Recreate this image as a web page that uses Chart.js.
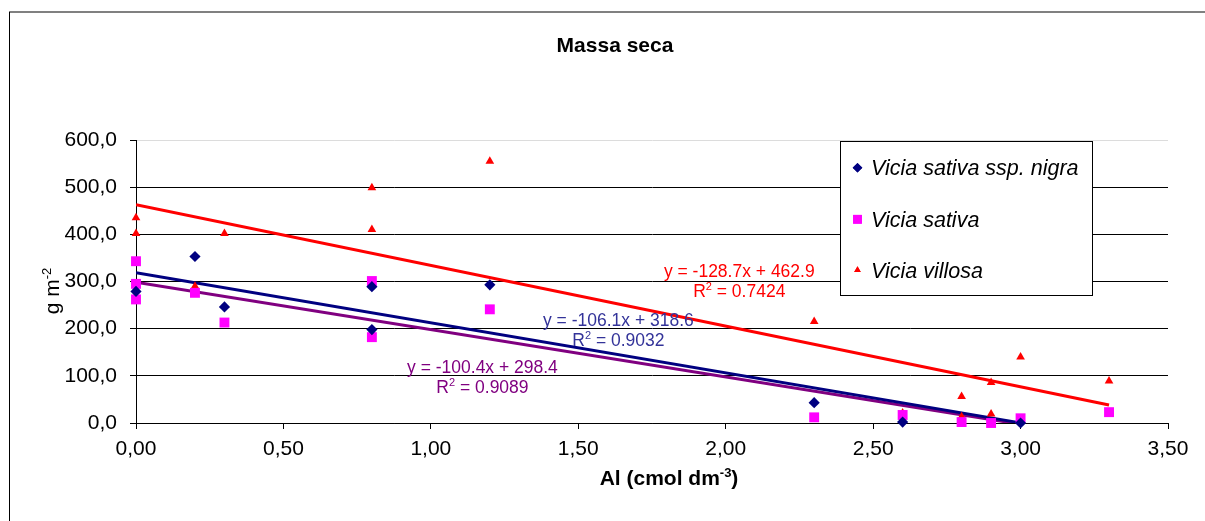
<!DOCTYPE html>
<html>
<head>
<meta charset="utf-8">
<title>Massa seca</title>
<script src="https://cdn.jsdelivr.net/npm/chart.js@4.4.0/dist/chart.umd.min.js"></script>
<style>
  html, body { margin: 0; padding: 0; background: #fff; }
  #wrap { position: relative; width: 1205px; height: 521px; }
</style>
</head>
<body>
<div id="wrap"><canvas id="massa-seca"></canvas></div>
<script>
/*global document, window, Chart*/
(function (window, document, Chart) {
  "use strict";

  /////////////////////////////////////////////////////////////////
  // data: Al in cmol dm-3, dry mass in g m-2
  /////////////////////////////////////////////////////////////////
  var nigra_x = [0, 0.2, 0.3, 0.8, 0.8, 1.2, 2.3, 2.6, 3.0],
    nigra_y = [279, 353, 246, 289, 198, 293, 43, 2, 0],
    sativa_x = [0, 0, 0, 0.2, 0.3, 0.8, 0.8, 1.2, 2.3, 2.6, 2.8, 2.9, 3.0, 3.3],
    sativa_y = [343, 295, 262, 276, 213, 301, 182, 241, 12, 17, 2, 0, 10, 23],
    villosa_x = [0, 0, 0.2, 0.3, 0.8, 0.8, 1.2, 2.3, 2.6, 2.8, 2.8, 2.9, 2.9, 3.0, 3.3],
    villosa_y = [435, 402, 290, 402, 499, 410, 555, 215, 21, 56, 13, 86, 19, 140, 89],
    // trendline end points
    nigra_fit_x = [0, 3.0],
    nigra_fit_y = [318.6, 0.3],
    sativa_fit_x = [0, 3.3],
    sativa_fit_y = [298.4, -32.9],
    villosa_fit_x = [0, 3.3],
    villosa_fit_y = [462.9, 38.2],
    series_label_list = ["Vicia sativa ssp. nigra", "Vicia sativa", "Vicia villosa"],
    equation_list = ["y = -106.1x + 318.6", "y = -100.4x + 298.4", "y = -128.7x + 462.9"],
    r2_list = ["0.9032", "0.9089", "0.7424"],
    x_tick_value_list = [0, 0.5, 1, 1.5, 2, 2.5, 3, 3.5],
    x_tick_label_list = ["0,00", "0,50", "1,00", "1,50", "2,00", "2,50", "3,00", "3,50"],
    y_tick_value_list = [0, 100, 200, 300, 400, 500, 600],
    y_tick_label_list = ["0,0", "100,0", "200,0", "300,0", "400,0", "500,0", "600,0"],

    FONT = '"Liberation Sans", Arial, Helvetica, sans-serif',
    NAVY = "#000080",
    MAGENTA = "#FF00FF",
    RED = "#FF0000",
    PURPLE = "#800080";

  function toPoints(x_list, y_list) {
    var i, point_list = [];
    for (i = 0; i < x_list.length; i += 1) {
      point_list.push({x: x_list[i], y: y_list[i]});
    }
    return point_list;
  }

  function setTicks(value_list) {
    return function (scale) {
      scale.ticks = value_list.map(function (value) {
        return {value: value};
      });
    };
  }

  // text with a small raised part, e.g. "dm" + "-3"
  function drawSup(ctx, base, sup, x, y, size, weight, align) {
    var small = Math.round(size * 0.62),
      base_w,
      sup_w,
      tail = "",
      start;
    if (sup.indexOf("|") !== -1) {
      tail = sup.split("|")[1];
      sup = sup.split("|")[0];
    }
    ctx.font = weight + " " + size + "px " + FONT;
    base_w = ctx.measureText(base).width;
    ctx.font = weight + " " + small + "px " + FONT;
    sup_w = ctx.measureText(sup).width;
    ctx.font = weight + " " + size + "px " + FONT;
    start = align === "center" ?
        x - (base_w + sup_w + ctx.measureText(tail).width) / 2 : x;
    ctx.textAlign = "left";
    ctx.textBaseline = "alphabetic";
    ctx.fillText(base, start, y);
    ctx.fillText(tail, start + base_w + sup_w, y);
    ctx.font = weight + " " + small + "px " + FONT;
    ctx.fillText(sup, start + base_w, y - size * 0.4);
  }

  var framePlugin = {
    id: "frame",
    beforeDraw: function (chart) {
      var ctx = chart.ctx;
      ctx.save();
      ctx.fillStyle = "#ffffff";
      ctx.fillRect(0, 0, chart.width, chart.height);
      ctx.strokeStyle = "#808080";
      ctx.lineWidth = 2;
      ctx.beginPath();
      ctx.moveTo(9, 12);
      ctx.lineTo(chart.width, 12);
      ctx.stroke();
      ctx.strokeStyle = "#000000";
      ctx.lineWidth = 1;
      ctx.beginPath();
      ctx.moveTo(9.5, 12);
      ctx.lineTo(9.5, chart.height);
      ctx.stroke();
      ctx.restore();
    }
  };

  var textPlugin = {
    id: "texts",
    afterDraw: function (chart, args, options) {
      var ctx = chart.ctx,
        x_scale = chart.scales.x,
        y_scale = chart.scales.y;
      ctx.save();
      ctx.fillStyle = "#000000";
      ctx.font = "bold 21px " + FONT;
      ctx.textAlign = "center";
      ctx.textBaseline = "alphabetic";
      ctx.fillText("Massa seca", 615, 52);

      drawSup(ctx, "Al (cmol dm", "-3|)", 669, 485, 21, "bold", "center");

      ctx.translate(59, 291);
      ctx.rotate(-Math.PI / 2);
      drawSup(ctx, "g m", "-2", 0, 0, 21, "normal", "center");
      ctx.setTransform(1, 0, 0, 1, 0, 0);

      options.equations.forEach(function (item, i) {
        var px = x_scale.getPixelForValue(item.at[0]);
        ctx.fillStyle = item.color;
        ctx.font = "17.5px " + FONT;
        ctx.textAlign = "center";
        ctx.fillText(equation_list[i], px, y_scale.getPixelForValue(item.at[1]));
        drawSup(ctx, "R", "2| = " + r2_list[i], px,
          y_scale.getPixelForValue(item.at[2]), 17.5, "normal", "center");
      });
      ctx.restore();
    }
  };

  var legendPlugin = {
    id: "boxLegend",
    afterDraw: function (chart, args, options) {
      var ctx = chart.ctx,
        box = options.box,
        helpers = Chart.helpers;
      ctx.save();
      ctx.fillStyle = "#ffffff";
      ctx.fillRect(box[0], box[1], box[2], box[3]);
      ctx.strokeStyle = "#000000";
      ctx.lineWidth = 1;
      ctx.strokeRect(box[0] + 0.5, box[1] + 0.5, box[2], box[3]);
      series_label_list.forEach(function (label, i) {
        var dataset = chart.data.datasets[i],
          cy = options.rows[i];
        ctx.fillStyle = dataset.backgroundColor;
        helpers.drawPoint(ctx, {
          pointStyle: dataset.pointStyle,
          radius: options.radius[i],
          rotation: 0,
          borderWidth: 0
        }, box[0] + 17.5, cy);
        ctx.fill();
        ctx.fillStyle = "#000000";
        ctx.font = "italic 21.5px " + FONT;
        ctx.textAlign = "left";
        ctx.textBaseline = "alphabetic";
        ctx.fillText(label, box[0] + 31, cy + 7.5);
      });
      ctx.restore();
    }
  };

  function scatterSet(x_list, y_list, color, style, radius) {
    return {
      type: "scatter",
      data: toPoints(x_list, y_list),
      backgroundColor: color,
      borderColor: color,
      borderWidth: 0,
      pointStyle: style,
      pointRadius: radius,
      clip: false,
      order: 0
    };
  }

  function fitSet(x_list, y_list, color) {
    return {
      type: "line",
      data: toPoints(x_list, y_list),
      borderColor: color,
      borderWidth: 3,
      pointRadius: 0,
      fill: false,
      clip: 0,
      order: 1
    };
  }

  window.massa_chart = new Chart(document.getElementById("massa-seca"), {
    type: "scatter",
    data: {
      datasets: [
        scatterSet(nigra_x, nigra_y, NAVY, "rectRot", 5.6),
        scatterSet(sativa_x, sativa_y, MAGENTA, "rect", 7),
        scatterSet(villosa_x, villosa_y, RED, "triangle", 5),
        fitSet(nigra_fit_x, nigra_fit_y, NAVY),
        fitSet(sativa_fit_x, sativa_fit_y, PURPLE),
        fitSet(villosa_fit_x, villosa_fit_y, RED)
      ]
    },
    options: {
      responsive: true,
      maintainAspectRatio: false,
      animation: false,
      events: [],
      layout: {
        padding: {top: 140, left: 0, right: 37, bottom: 0}
      },
      scales: {
        x: {
          type: "linear",
          min: 0,
          max: 3.5,
          afterBuildTicks: setTicks(x_tick_value_list),
          afterFit: function (scale) {
            scale.height = 98;
          },
          border: {display: true, color: "#000000", width: 1},
          grid: {
            drawOnChartArea: false,
            drawTicks: true,
            tickLength: 6,
            tickColor: "#000000"
          },
          ticks: {
            padding: 8,
            color: "#000000",
            maxRotation: 0,
            autoSkip: false,
            font: {family: FONT, size: 21},
            callback: function (value, index) {
              return x_tick_label_list[index];
            }
          }
        },
        y: {
          type: "linear",
          min: 0,
          max: 600,
          afterBuildTicks: setTicks(y_tick_value_list),
          afterFit: function (scale) {
            scale.width = 136;
          },
          border: {display: true, color: "#000000", width: 1},
          grid: {
            color: function (context) {
              return context.tick && context.tick.value === 600 ? "#dcdcdc" : "#000000";
            },
            tickLength: 6,
            tickColor: "#000000"
          },
          ticks: {
            padding: 13,
            color: "#000000",
            autoSkip: false,
            font: {family: FONT, size: 21},
            callback: function (value, index) {
              return y_tick_label_list[index];
            }
          }
        }
      },
      plugins: {
        legend: {display: false},
        tooltip: {enabled: false},
        title: {display: false},
        texts: {
          equations: [
            {color: "#333399", at: [1.636, 205.2, 163.4]},
            {color: PURPLE, at: [1.175, 106.1, 63.7]},
            {color: RED, at: [2.046, 309.2, 266.1]}
          ]
        },
        boxLegend: {
          box: [840, 141, 252, 154],
          rows: [167.7, 219.3, 270],
          radius: [4.8, 6.2, 3.8]
        }
      }
    },
    plugins: [framePlugin, textPlugin, legendPlugin]
  });

}(window, document, Chart));
</script>
</body>
</html>
